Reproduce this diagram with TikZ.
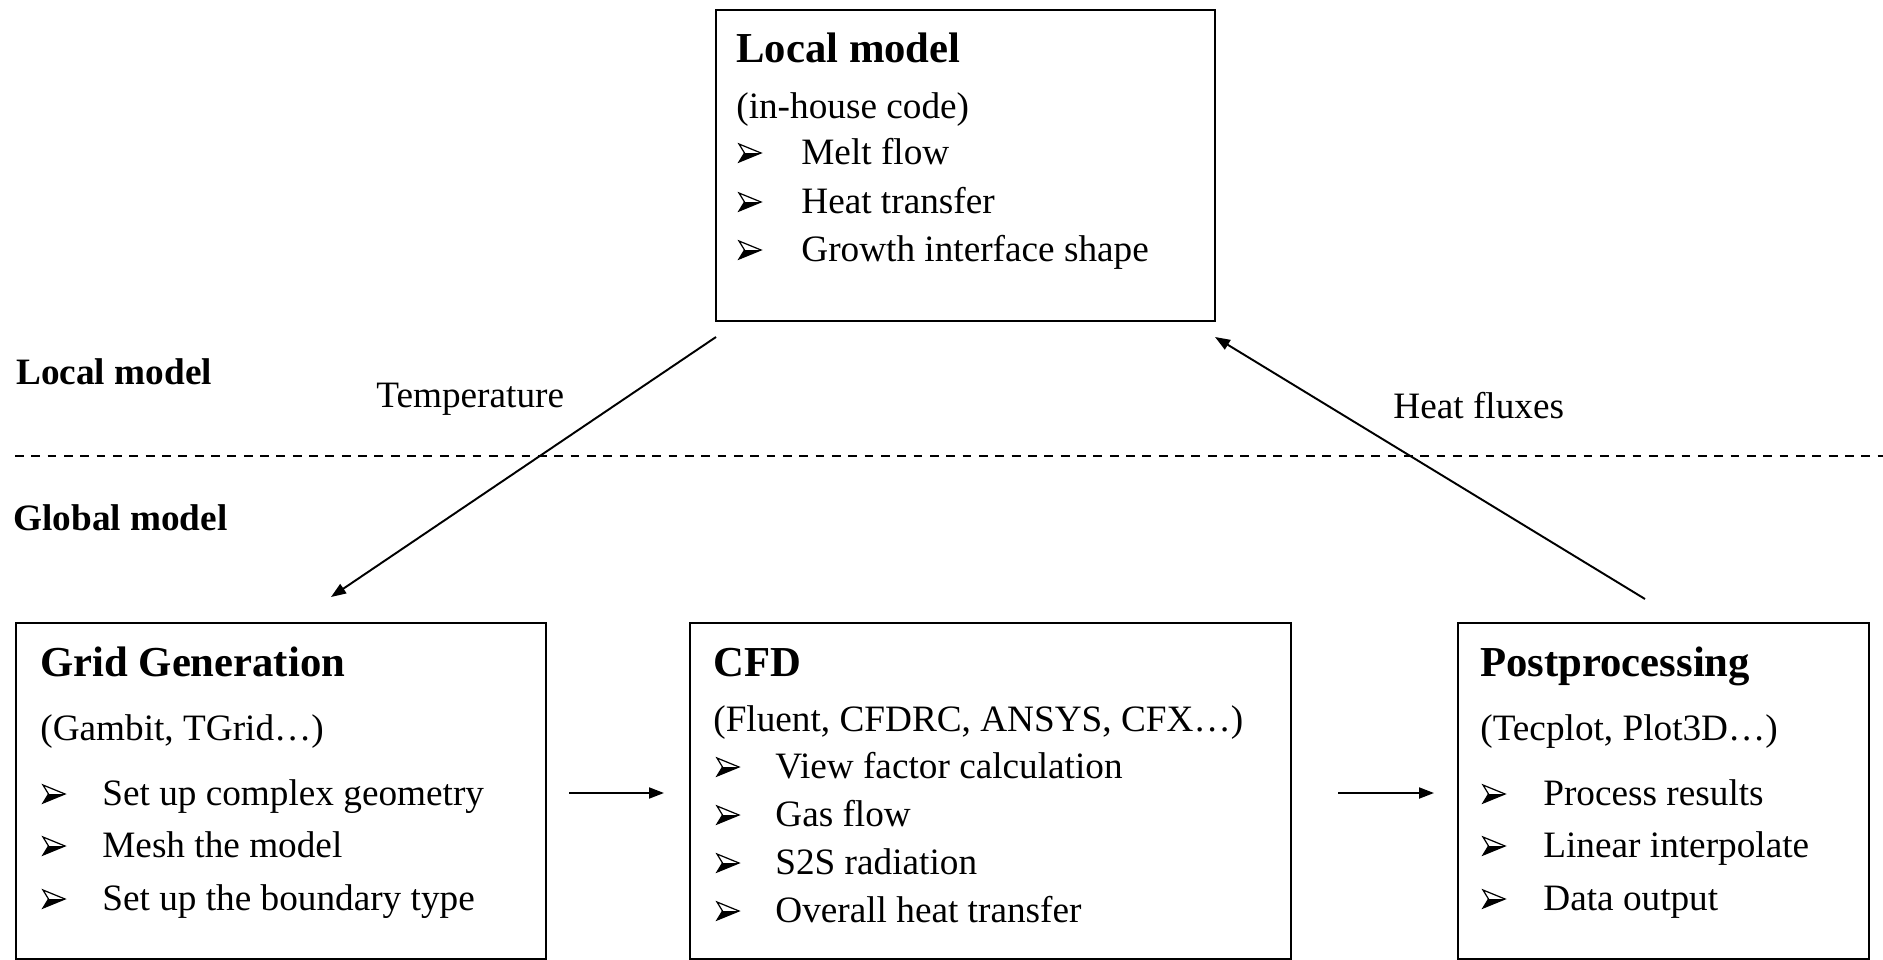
\documentclass[tikz,border=0pt]{standalone}
\usepackage{fontspec}
\setmainfont{Liberation Serif}
\usetikzlibrary{arrows.meta}
\tikzset{
  box/.style={draw=black, line width=1.1pt, inner sep=0pt, rectangle},
  body/.style={anchor=mid west, inner sep=0pt, font=\fontsize{21.2pt}{27pt}\selectfont},
  head/.style={anchor=mid west, inner sep=0pt, font=\fontsize{24.3pt}{30pt}\selectfont\bfseries},
  side/.style={anchor=mid west, inner sep=0pt, font=\fontsize{21.2pt}{27pt}\selectfont\bfseries},
  wbul/.pic={
    \draw[line width=0.7pt, line join=miter] (0,-9)--(22,0)--(0,9)--(5.5,0)--cycle;
    \fill (22,0)--(5.5,0)--(0,9)--cycle;
  },
  conn/.style={line width=1.1pt, -{Triangle[length=0.3cm, width=0.22cm]}},
  sep/.style={line width=1.1pt, dash pattern=on 5pt off 4.3pt}
}
\begin{document}
\begin{tikzpicture}[x=0.02cm, y=-0.02cm]
\useasboundingbox (0,0) rectangle (1883,960);
% boxes
\node[box, minimum width=9.98cm, minimum height=6.22cm] (top) at (965.5,165.5) {};
\node[box, minimum width=10.6cm, minimum height=6.72cm] (grid) at (281,791) {};
\node[box, minimum width=12.02cm, minimum height=6.72cm] (cfd) at (990.5,791) {};
\node[box, minimum width=8.22cm, minimum height=6.72cm] (post) at (1663.5,791) {};
% top box text
\node[head] (th) at (736,58) {Local model};
\node[body] (ts) at (736,114) {(in-house code)};
\pic at (739,153) {wbul};
\node[body] (ti1) at (801,160) {Melt flow};
\pic at (739,202) {wbul};
\node[body] (ti2) at (801,209) {Heat transfer};
\pic at (739,250) {wbul};
\node[body] (ti3) at (801,257) {Growth interface shape};
% grid box text
\node[head] (gh) at (40,672) {Grid Generation};
\node[body] (gs) at (40,736) {(Gambit, TGrid\dots)};
\pic at (43,794) {wbul};
\node[body] (gi1) at (102,801) {Set up complex geometry};
\pic at (43,846) {wbul};
\node[body] (gi2) at (102,853) {Mesh the model};
\pic at (43,899) {wbul};
\node[body] (gi3) at (102,906) {Set up the boundary type};
% cfd box text
\node[head] (ch) at (713,672) {CFD};
\node[body] (cs) at (713,727) {(Fluent, CFDRC, ANSYS, CFX\dots)};
\pic at (717,767) {wbul};
\node[body] (ci1) at (775,774) {View factor calculation};
\pic at (717,815) {wbul};
\node[body] (ci2) at (775,822) {Gas flow};
\pic at (717,863) {wbul};
\node[body] (ci3) at (775,870) {S2S radiation};
\pic at (717,911) {wbul};
\node[body] (ci4) at (775,918) {Overall heat transfer};
% post box text
\node[head] (ph) at (1480,672) {Postprocessing};
\node[body] (ps) at (1480,736) {(Tecplot, Plot3D\dots)};
\pic at (1483,794) {wbul};
\node[body] (pi1) at (1543,801) {Process results};
\pic at (1483,846) {wbul};
\node[body] (pi2) at (1543,853) {Linear interpolate};
\pic at (1483,899) {wbul};
\node[body] (pi3) at (1543,906) {Data output};
% side labels
\node[side] (lloc) at (16,380) {Local model};
\node[side] (lglo) at (13,526) {Global model};
% separator
\coordinate (s1) at (15,456);
\coordinate (s2) at (1883,456);
\draw[sep] (s1) -- (s2);
% connector labels
\node[body] (ltemp) at (376,403) {Temperature};
\node[body] (lheat) at (1393,414) {Heat fluxes};
% connectors
\coordinate (t1) at (716,337);
\coordinate (t2) at (331,597);
\draw[conn] (t1) -- (t2);
\coordinate (h1) at (1645,599);
\coordinate (h2) at (1215,337);
\draw[conn] (h1) -- (h2);
\coordinate (a1) at (569,793);
\coordinate (a2) at (664,793);
\draw[conn] (a1) -- (a2);
\coordinate (b1) at (1338,793);
\coordinate (b2) at (1434,793);
\draw[conn] (b1) -- (b2);
\end{tikzpicture}
\end{document}
